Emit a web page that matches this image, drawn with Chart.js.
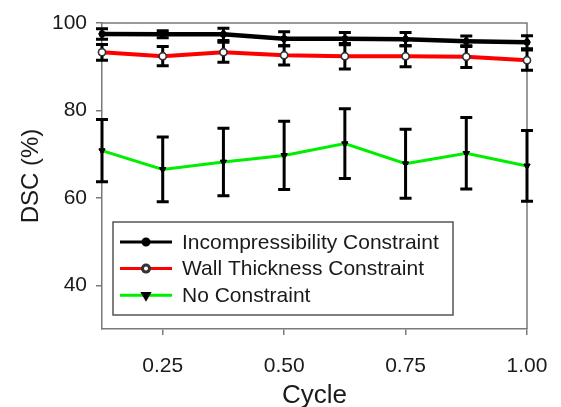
<!DOCTYPE html>
<html>
<head>
<meta charset="utf-8">
<script src="https://cdn.jsdelivr.net/npm/chart.js@4.4.1/dist/chart.umd.min.js"></script>
<style>
  html, body { margin: 0; padding: 0; background: #fff; }
  canvas { display: block; }
</style>
</head>
<body>
<canvas id="dscChart" width="561" height="407"></canvas>
<script>
// Cycle fraction (x axis)
const cycles = [0.125, 0.25, 0.375, 0.5, 0.625, 0.75, 0.875, 1.0];

// Mean DSC (%) and +/- error per method
const incompMean = [97.5, 97.4, 97.4, 96.4, 96.4, 96.3, 95.8, 95.6];
const incompErr  = [1.2, 0.8, 1.4, 1.6, 1.4, 1.5, 1.2, 1.5];
const wallMean   = [93.3, 92.4, 93.3, 92.6, 92.4, 92.4, 92.3, 91.5];
const wallErr    = [1.8, 2.2, 2.3, 2.2, 2.9, 2.4, 2.5, 2.3];
const noneMean   = [70.8, 66.5, 68.2, 69.7, 72.4, 67.8, 70.2, 67.3];
const noneErr    = [7.1, 7.4, 7.7, 7.8, 8.0, 7.9, 8.2, 8.1];

const seriesLabels = ['Incompressibility Constraint', 'Wall Thickness Constraint', 'No Constraint'];
const xTicks = [0.25, 0.5, 0.75, 1.0];
const yTicks = [40, 60, 80, 100];

const FONT = 'Arial, "Liberation Sans", Helvetica, sans-serif';
const AXIS_GRAY = '#7a7a7a';
const TEXT = '#1a1a1a';

const toPoints = means => means.map((y, i) => ({ x: cycles[i], y }));
const everywhere = { left: -1e4, right: 1e4, top: -1e4, bottom: 1e4 };

// Vertical error bars with caps; point markers are redrawn so they sit on top
const errorBars = {
  id: 'errorBars',
  afterDatasetDraw(chart, args) {
    const ds = chart.data.datasets[args.index];
    if (!ds.errors) return;
    const { ctx, scales: { x, y } } = chart;
    ctx.save();
    ctx.strokeStyle = '#000';
    ctx.lineWidth = 3;
    ds.data.forEach((pt, i) => {
      const px = x.getPixelForValue(pt.x);
      const top = y.getPixelForValue(pt.y + ds.errors[i]);
      const bot = y.getPixelForValue(pt.y - ds.errors[i]);
      ctx.beginPath();
      ctx.moveTo(px, top); ctx.lineTo(px, bot);
      ctx.moveTo(px - 6, top); ctx.lineTo(px + 6, top);
      ctx.moveTo(px - 6, bot); ctx.lineTo(px + 6, bot);
      ctx.stroke();
    });
    ctx.restore();
    args.meta.data.forEach(p => p.draw(ctx, everywhere));
  }
};

// Top and right edges of the plot frame
const frame = {
  id: 'frame',
  beforeDatasetsDraw(chart) {
    const { ctx, chartArea: a } = chart;
    ctx.save();
    ctx.strokeStyle = AXIS_GRAY;
    ctx.lineWidth = 1.5;
    ctx.beginPath();
    ctx.moveTo(a.left, a.top);
    ctx.lineTo(a.right, a.top);
    ctx.lineTo(a.right, a.bottom);
    ctx.stroke();
    ctx.restore();
  }
};

// Boxed legend in the lower-left corner of the plot
const legendBox = {
  id: 'legendBox',
  afterDraw(chart) {
    const { ctx, chartArea: a } = chart;
    const left = a.left + 11, top = a.bottom - 107, w = 340, h = 93;
    ctx.save();
    ctx.fillStyle = '#fff';
    ctx.fillRect(left, top, w, h);
    ctx.strokeStyle = '#555';
    ctx.lineWidth = 1.5;
    ctx.strokeRect(left, top, w, h);

    ctx.font = '21px ' + FONT;
    ctx.textBaseline = 'middle';
    chart.data.datasets.forEach((ds, i) => {
      const cy = top + 20 + i * 26.6;
      ctx.strokeStyle = ds.borderColor;
      ctx.lineWidth = 3;
      ctx.beginPath();
      ctx.moveTo(left + 7, cy);
      ctx.lineTo(left + 59, cy);
      ctx.stroke();
      ctx.fillStyle = ds.pointBackgroundColor;
      ctx.strokeStyle = ds.pointBorderColor;
      Chart.helpers.drawPoint(ctx, {
        pointStyle: ds.pointStyle || 'circle',
        radius: ds.pointRadius,
        rotation: ds.pointRotation || 0,
        borderWidth: ds.pointBorderWidth
      }, left + 33, cy);
      ctx.fillStyle = TEXT;
      ctx.fillText(ds.label, left + 69, cy + 1);
    });
    ctx.restore();
  }
};

new Chart(document.getElementById('dscChart'), {
  type: 'line',
  data: {
    datasets: [
      {
        label: seriesLabels[0],
        data: toPoints(incompMean),
        errors: incompErr,
        borderColor: '#000',
        borderWidth: 4.5,
        pointRadius: 3,
        pointBackgroundColor: '#000',
        pointBorderColor: '#000',
        pointBorderWidth: 1,
        clip: false
      },
      {
        label: seriesLabels[1],
        data: toPoints(wallMean),
        errors: wallErr,
        borderColor: '#ff0000',
        borderWidth: 4,
        pointRadius: 3.5,
        pointBackgroundColor: '#fff',
        pointBorderColor: '#333',
        pointBorderWidth: 1.5,
        clip: false
      },
      {
        label: seriesLabels[2],
        data: toPoints(noneMean),
        errors: noneErr,
        borderColor: '#00ee00',
        borderWidth: 3,
        pointStyle: 'triangle',
        pointRotation: 180,
        pointRadius: 3.5,
        pointBackgroundColor: '#000',
        pointBorderColor: '#000',
        pointBorderWidth: 1,
        clip: false
      }
    ]
  },
  options: {
    responsive: false,
    animation: false,
    events: [],
    layout: { padding: { left: 0, right: 34, top: 23, bottom: 0 } },
    plugins: {
      legend: { display: false },
      tooltip: { enabled: false }
    },
    scales: {
      x: {
        type: 'linear',
        min: 0.125,
        max: 1.0,
        afterFit: scale => { scale.height = 78; },
        afterBuildTicks: scale => { scale.ticks = xTicks.map(v => ({ value: v })); },
        ticks: {
          callback: v => v.toFixed(2),
          font: { family: FONT, size: 21, lineHeight: 1.85 },
          color: TEXT,
          padding: 12,
          maxRotation: 0
        },
        grid: { drawOnChartArea: false, drawTicks: true, tickLength: 6, color: AXIS_GRAY, lineWidth: 1.5 },
        border: { color: AXIS_GRAY, width: 1.5 },
        title: {
          display: true,
          text: 'Cycle',
          font: { family: FONT, size: 26, lineHeight: 1 },
          color: TEXT,
          padding: { top: 0, bottom: -2 }
        }
      },
      y: {
        min: 30,
        max: 100,
        afterFit: scale => { scale.width = 102; },
        afterBuildTicks: scale => { scale.ticks = yTicks.map(v => ({ value: v })); },
        ticks: {
          callback: v => String(v),
          font: { family: FONT, size: 21 },
          color: TEXT,
          padding: 9
        },
        grid: { drawOnChartArea: false, drawTicks: true, tickLength: 6, color: AXIS_GRAY, lineWidth: 1.5 },
        border: { color: AXIS_GRAY, width: 1.5 },
        title: {
          display: true,
          text: 'DSC (%)',
          font: { family: FONT, size: 24 },
          color: TEXT,
          padding: { top: 17, bottom: 0 }
        }
      }
    }
  },
  plugins: [frame, errorBars, legendBox]
});
</script>
</body>
</html>
